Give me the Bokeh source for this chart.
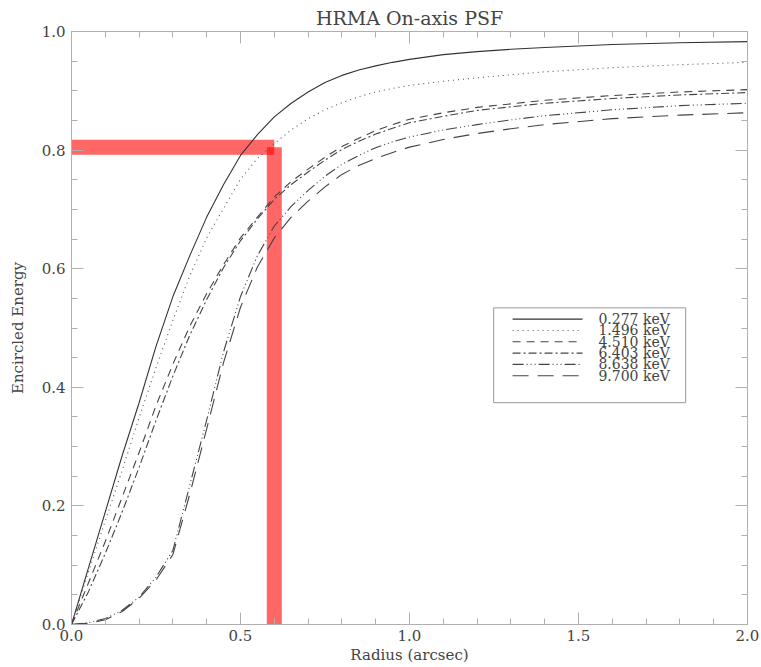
from bokeh.plotting import figure
from bokeh.models import (Range1d, LinearAxis, FixedTicker,
                          CustomJSTickFormatter, NumeralTickFormatter)
from bokeh.core.properties import value
from bokeh.embed import file_html
from bokeh.resources import INLINE

# ---------------- data ----------------
radius = [0.0, 0.05, 0.1, 0.15, 0.2, 0.25, 0.3, 0.35, 0.4, 0.45, 0.5, 0.55,
          0.6, 0.65, 0.7, 0.75, 0.8, 0.85, 0.9, 0.95, 1.0, 1.1, 1.2, 1.3,
          1.4, 1.6, 1.8, 2.0]

ee_0277 = [0.0, 0.095, 0.19, 0.285, 0.374, 0.469, 0.553, 0.622, 0.687, 0.742,
           0.791, 0.826, 0.856, 0.879, 0.898, 0.914, 0.926, 0.935, 0.942,
           0.948, 0.953, 0.961, 0.966, 0.970, 0.973, 0.978, 0.981, 0.983]
ee_1496 = [0.0, 0.088, 0.175, 0.26, 0.349, 0.433, 0.513, 0.588, 0.652, 0.702,
           0.751, 0.786, 0.811, 0.834, 0.853, 0.868, 0.880, 0.890, 0.898,
           0.904, 0.909, 0.916, 0.922, 0.927, 0.932, 0.939, 0.944, 0.948]
ee_4510 = [0.0, 0.07, 0.14, 0.215, 0.29, 0.369, 0.439, 0.503, 0.558, 0.607,
           0.652, 0.687, 0.721, 0.747, 0.768, 0.788, 0.806, 0.820, 0.833,
           0.843, 0.852, 0.863, 0.872, 0.878, 0.884, 0.892, 0.898, 0.902]
ee_6403 = [0.0, 0.055, 0.12, 0.19, 0.265, 0.344, 0.419, 0.488, 0.548, 0.602,
           0.647, 0.684, 0.717, 0.742, 0.763, 0.783, 0.801, 0.815, 0.827,
           0.837, 0.846, 0.857, 0.867, 0.873, 0.879, 0.887, 0.893, 0.897]
ee_8638 = [0.0, 0.003, 0.01, 0.024, 0.046, 0.08, 0.125, 0.235, 0.345, 0.46,
           0.553, 0.622, 0.672, 0.705, 0.732, 0.756, 0.776, 0.791, 0.804,
           0.814, 0.822, 0.834, 0.843, 0.851, 0.858, 0.868, 0.875, 0.879]
ee_9700 = [0.0, 0.002, 0.008, 0.022, 0.044, 0.075, 0.118, 0.22, 0.33, 0.442,
           0.535, 0.603, 0.652, 0.687, 0.714, 0.738, 0.759, 0.774, 0.786,
           0.796, 0.805, 0.818, 0.828, 0.836, 0.843, 0.853, 0.859, 0.863]

series = [ee_0277, ee_1496, ee_4510, ee_6403, ee_8638, ee_9700]
energy_labels = ["0.277 keV", "1.496 keV", "4.510 keV", "6.403 keV",
                 "8.638 keV", "9.700 keV"]

# 80% encircled energy marker (red bars)
marker_radius = 0.6
marker_ee = 0.805

x_major = [0.0, 0.5, 1.0, 1.5, 2.0]
x_minor = [0.1, 0.2, 0.3, 0.4, 0.6, 0.7, 0.8, 0.9, 1.1, 1.2, 1.3, 1.4,
           1.6, 1.7, 1.8, 1.9]
y_major = [0.0, 0.2, 0.4, 0.6, 0.8, 1.0]
y_minor = [0.05, 0.1, 0.15, 0.25, 0.3, 0.35, 0.45, 0.5, 0.55, 0.65, 0.7,
           0.75, 0.85, 0.9, 0.95]

# ---------------- styles / layout ----------------
FONT = "DejaVu Serif"
TXT = "#444444"
AX = "#b0b0b0"
dashes = ["solid", "1 4", "8 6", "8 3 2 3", "11 3 1 3 1 3 1 3", "16 9"]
line_colors = ["#333333", "#555555", "#444444", "#444444", "#444444", "#444444"]

# legend box placement (in axis units)
LEG_LEFT, LEG_RIGHT, LEG_TOP, LEG_BOTTOM = 1.249, 1.817, 0.534, 0.374
LEG_X0, LEG_X1, LEG_TEXT_X = 1.305, 1.512, 1.559
LEG_ROW0, LEG_STEP = 0.515, 0.0191

p = figure(width=761, height=667, output_backend="svg", toolbar_location=None,
           x_range=Range1d(0, 2), y_range=Range1d(0, 1),
           min_border_left=71, min_border_right=14, min_border_top=31,
           min_border_bottom=43, x_axis_label="Radius (arcsec)",
           y_axis_label="Encircled Energy")

p.title.text = "HRMA On-axis PSF"
p.title.align = "center"
p.title.text_font = FONT
p.title.text_font_size = "19px"
p.title.text_font_style = "normal"
p.title.text_color = TXT
p.title.standoff = 6
p.title.offset = 0

p.xgrid.visible = False
p.ygrid.visible = False
p.outline_line_color = AX
p.background_fill_color = "white"
p.border_fill_color = "white"

xt = FixedTicker(ticks=x_major, minor_ticks=x_minor)
yt = FixedTicker(ticks=y_major, minor_ticks=y_minor)

def style_axis(ax, labels=True):
    ax.axis_line_color = AX
    ax.major_tick_line_color = AX
    ax.minor_tick_line_color = AX
    ax.major_tick_in = 12
    ax.major_tick_out = 0
    ax.minor_tick_in = 6
    ax.minor_tick_out = 0
    ax.major_label_text_font = FONT
    ax.major_label_text_font_size = "15px"
    ax.major_label_text_color = TXT
    ax.axis_label_text_font = FONT
    ax.axis_label_text_font_size = "15px"
    ax.axis_label_text_font_style = "normal"
    ax.axis_label_text_color = TXT
    if not labels:
        ax.formatter = CustomJSTickFormatter(code="return ''")
        ax.major_label_standoff = 0

p.xaxis.ticker = xt
p.yaxis.ticker = yt
p.xaxis.formatter = NumeralTickFormatter(format="0.0")
p.yaxis.formatter = NumeralTickFormatter(format="0.0")
style_axis(p.xaxis[0])
style_axis(p.yaxis[0])
p.xaxis.major_label_standoff = 5
p.xaxis.axis_label_standoff = 2
p.yaxis.major_label_standoff = 6
p.yaxis.axis_label_standoff = 12

top_ax = LinearAxis(ticker=xt)
right_ax = LinearAxis(ticker=yt)
style_axis(top_ax, labels=False)
style_axis(right_ax, labels=False)
p.add_layout(top_ax, "above")
p.add_layout(right_ax, "right")

# red marker bars
p.line([0, marker_radius], [marker_ee, marker_ee], line_color="red",
       line_alpha=0.6, line_width=15, line_cap="butt")
p.line([marker_radius, marker_radius], [marker_ee, 0], line_color="red",
       line_alpha=0.6, line_width=15, line_cap="butt")

for ys, dash, col in zip(series, dashes, line_colors):
    p.line(radius, ys, line_color=col, line_width=1.1, line_dash=dash)

# legend box
p.quad(left=[LEG_LEFT], right=[LEG_RIGHT], top=[LEG_TOP], bottom=[LEG_BOTTOM],
       fill_color="white", line_color="#999999", line_width=1)
rows = [LEG_ROW0 - i * LEG_STEP for i in range(len(energy_labels))]
for yr, dash, col in zip(rows, dashes, line_colors):
    p.line([LEG_X0, LEG_X1], [yr, yr], line_color=col, line_width=1.1,
           line_dash=dash)
p.text(x=[LEG_TEXT_X] * len(rows), y=rows, text=energy_labels,
       text_font=value(FONT), text_font_size="14px", text_color=TXT,
       text_baseline="middle", text_align="left")

open("out.html", "w").write(file_html(p, INLINE))
